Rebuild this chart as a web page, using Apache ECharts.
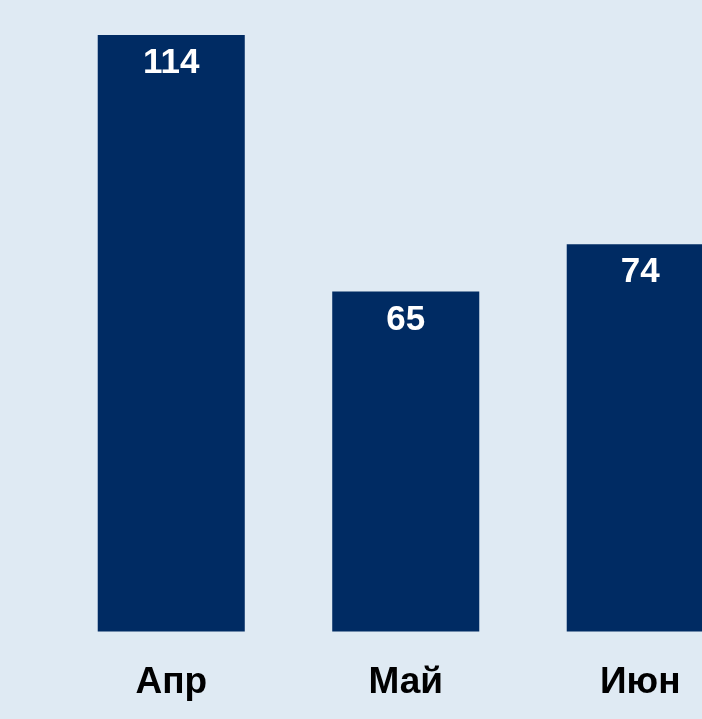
<!DOCTYPE html>
<html>
<head>
<meta charset="utf-8">
<script src="https://cdn.jsdelivr.net/npm/echarts@6/dist/echarts.min.js"></script>
<style>
  html, body { margin: 0; padding: 0; background: #dfeaf3; }
  #chart { width: 702px; height: 719px; }
</style>
</head>
<body>
<div id="chart"></div>
<script>
var months = ['Апр', 'Май', 'Июн']
var counts = [114, 65, 74]

var myChart = echarts.init(document.getElementById('chart'))
var option = {
  backgroundColor: '#dfeaf3',
  animation: false,
  grid: {
    left: 54,
    right: -55.5,
    top: 35,
    bottom: 87.5,
    containLabel: false,
    outerBoundsMode: 'none'
  },
  xAxis: {
    type: 'category',
    data: months,
    axisLine: { show: false },
    axisTick: { show: false },
    axisLabel: {
      margin: 33,
      color: '#000',
      fontFamily: 'Liberation Sans',
      fontWeight: 'bold',
      fontSize: 37
    }
  },
  yAxis: {
    type: 'value',
    min: 0,
    max: 114,
    show: false,
    splitLine: { show: false }
  },
  series: [{
    type: 'bar',
    data: counts,
    barWidth: '62.7%',
    itemStyle: { color: '#002b63' },
    label: {
      show: true,
      position: 'insideTop',
      distance: 11,
      color: '#fff',
      fontFamily: 'Liberation Sans',
      fontWeight: 'bold',
      fontSize: 35
    }
  }]
}
myChart.setOption(option, true)
</script>
</body>
</html>
